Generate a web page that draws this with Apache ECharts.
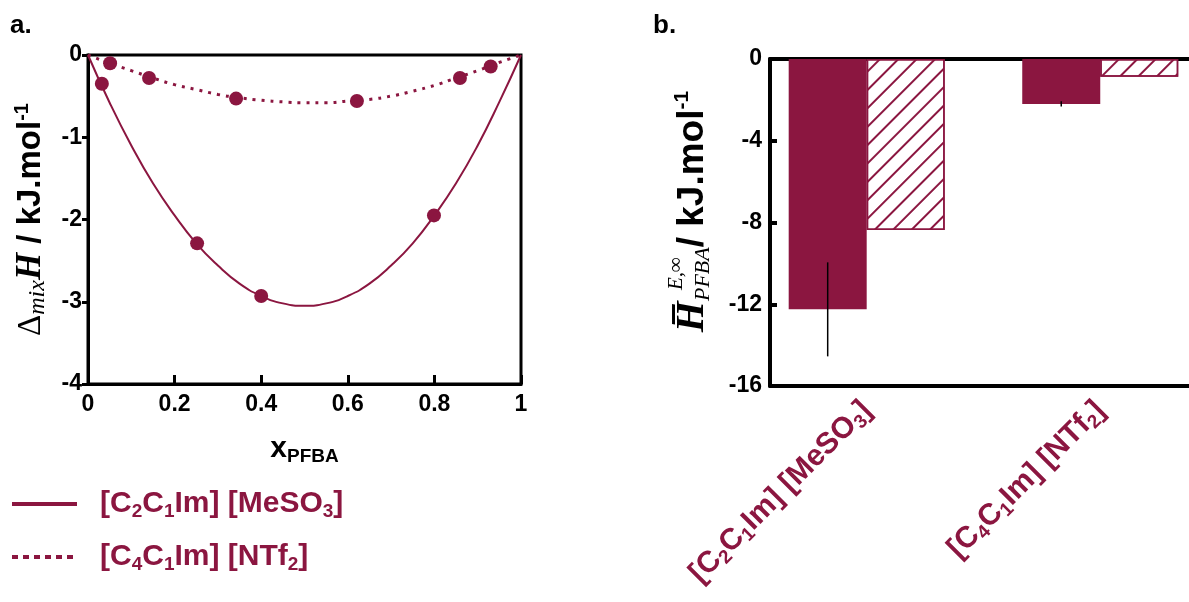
<!DOCTYPE html>
<html><head><meta charset="utf-8">
<script src="https://cdn.jsdelivr.net/npm/echarts@6/dist/echarts.min.js"></script>
<style>html,body{margin:0;padding:0;background:#fff}#c{width:1189px;height:602px}</style>
</head><body><div id="c"></div>
<script>
// ---- panel a: fitted curves ----
const xFit = [0, 0.05, 0.1, 0.15, 0.2, 0.25, 0.3, 0.35, 0.4, 0.45, 0.5, 0.55, 0.6, 0.65, 0.7, 0.75, 0.8, 0.85, 0.9, 0.95, 1];
const fitC2 = [0, -0.58, -1.10, -1.56, -1.95, -2.29, -2.56, -2.78, -2.93, -3.02, -3.05, -3.02, -2.93, -2.78, -2.56, -2.29, -1.95, -1.56, -1.10, -0.57, 0];
const fitC4 = [0, -0.10, -0.19, -0.28, -0.36, -0.42, -0.48, -0.52, -0.55, -0.57, -0.58, -0.58, -0.56, -0.54, -0.50, -0.44, -0.37, -0.28, -0.19, -0.09, 0];
// ---- panel a: measured points ----
const xPtsC2 = [0.032, 0.252, 0.40, 0.799];
const yPtsC2 = [-0.35, -2.29, -2.93, -1.95];
const xPtsC4 = [0.051, 0.141, 0.342, 0.621, 0.859, 0.930];
const yPtsC4 = [-0.10, -0.28, -0.53, -0.56, -0.28, -0.14];
const seriesNames = ['[C2C1Im] [MeSO3]', '[C4C1Im] [NTf2]'];
const xTicksA = [0, 0.2, 0.4, 0.6, 0.8, 1];
const yTicksA = [0, -1, -2, -3, -4];
// ---- panel b ----
const barCategories = ['[C2C1Im] [MeSO3]', '[C4C1Im] [NTf2]'];
const barPositions = [1, 2];
const solidVals = [-12.25, -2.2];
const solidErr = [2.3, 0.13];
const hatchVals = [-8.37, -0.87];
const yTicksB = [0, -4, -8, -12, -16];

const MAROON = '#8B1640';
const SANS = '"Liberation Sans", Arial, sans-serif';
const SERIF = '"Liberation Serif", "DejaVu Serif", serif';
const BAR_W = 78;

function subFmt(s) { return s.replace(/(\d)/g, '{s|$1}'); }
function zip(a, b) { return a.map((v, i) => [v, b[i]]); }

const chart = echarts.init(document.getElementById('c'));

const subRich = {
  s: {fontSize: 19, lineHeight: 19, verticalAlign: 'bottom', fontWeight: 'bold', color: MAROON, fontFamily: SANS},
  p: {width: 18}
};

const option = {
  animation: false,
  backgroundColor: '#fff',
  graphic: [
    {type: 'text', left: 10, top: 13, style: {text: 'a.', font: 'bold 26px ' + SANS, fill: '#000'}},
    {type: 'text', left: 653, top: 13, style: {text: 'b.', font: 'bold 26px ' + SANS, fill: '#000'}},
    {type: 'text', x: 666, y: 290, rotation: Math.PI / 2,
      style: {text: 'E,∞', font: 'italic 21px ' + SERIF, fill: '#000'}}
  ],
  grid: [
    {left: 88, top: 55, width: 433, height: 329, show: true, borderColor: '#000', borderWidth: 3},
    {left: 770, top: 59, right: 0, bottom: 216}
  ],
  legend: {
    orient: 'vertical', left: 10, top: 487, padding: 0, itemWidth: 65, itemHeight: 2, itemGap: 19,
    data: [
      {name: seriesNames[0]},
      {name: seriesNames[1], lineStyle: {type: [6, 5], width: 4}}
    ],
    itemStyle: {opacity: 0},
    lineStyle: {width: 4},
    formatter: n => '{p| }' + subFmt(n),
    textStyle: {color: MAROON, fontSize: 30, fontWeight: 'bold', fontFamily: SANS, lineHeight: 34, rich: subRich}
  },
  xAxis: [
    {type: 'value', gridIndex: 0, min: 0, max: 1, interval: 0.2,
      name: '{x|x}{s|PFBA}', nameLocation: 'middle', nameGap: 48,
      nameTextStyle: {rich: {x: {fontSize: 30, fontWeight: 'bold', fontFamily: SANS, color: '#000', lineHeight: 34},
        s: {fontSize: 19, fontWeight: 'bold', fontFamily: SANS, color: '#000', lineHeight: 19, verticalAlign: 'bottom'}}},
      axisLine: {show: true, onZero: false, lineStyle: {color: '#000', width: 3}},
      axisTick: {show: true, inside: true, length: 9, lineStyle: {color: '#000', width: 3}},
      axisLabel: {color: '#000', fontSize: 23, fontWeight: 'bold', fontFamily: SANS, margin: 9},
      splitLine: {show: false}},
    {type: 'value', gridIndex: 1, min: 0.586, max: 2.38,
      axisLine: {show: true, onZero: false, lineStyle: {color: '#000', width: 4}},
      axisTick: {show: false},
      axisLabel: {customValues: barPositions, rotate: 45, margin: 20, color: MAROON, fontSize: 30, fontWeight: 'bold', fontFamily: SANS,
        lineHeight: 34, rich: subRich,
        formatter: v => { const i = barPositions.indexOf(v); return i >= 0 ? subFmt(barCategories[i]) : ''; }},
      splitLine: {show: false}},
    {type: 'value', gridIndex: 1, min: 0.586, max: 2.38, position: 'top',
      axisLine: {show: true, onZero: false, lineStyle: {color: '#000', width: 4}},
      axisTick: {show: false}, axisLabel: {show: false}, splitLine: {show: false}}
  ],
  yAxis: [
    {type: 'value', gridIndex: 0, min: -4, max: 0, interval: 1,
      name: '{d|Δ}{m|mix}{h|H}{u| / kJ.mol}{sup|-1}', nameLocation: 'middle', nameRotate: 90, nameGap: 38,
      nameTextStyle: {rich: {
        d: {fontFamily: SERIF, fontSize: 33, color: '#000', lineHeight: 38},
        m: {fontFamily: SERIF, fontStyle: 'italic', fontSize: 24, color: '#000', lineHeight: 24, verticalAlign: 'bottom'},
        h: {fontFamily: SERIF, fontStyle: 'italic', fontWeight: 'bold', fontSize: 35, color: '#000', lineHeight: 38},
        u: {fontFamily: SANS, fontWeight: 'bold', fontSize: 33, color: '#000', lineHeight: 38},
        sup: {fontFamily: SANS, fontWeight: 'bold', fontSize: 20, color: '#000', lineHeight: 20, verticalAlign: 'top'}}},
      axisLine: {show: true, onZero: false, lineStyle: {color: '#000', width: 3}},
      axisTick: {show: true, length: 6, lineStyle: {color: '#000', width: 3}},
      axisLabel: {color: '#000', fontSize: 23, fontWeight: 'bold', fontFamily: SANS, margin: 6},
      splitLine: {show: false}},
    {type: 'value', gridIndex: 1, min: -16, max: 0, interval: 4,
      name: '{h|H̅}{sb|PFBA}{u|/ kJ.mol}{sup|-1}', nameLocation: 'middle', nameRotate: 90, nameGap: 56,
      nameTextStyle: {rich: {
        h: {fontFamily: SERIF, fontStyle: 'italic', fontWeight: 'bold', fontSize: 40, color: '#000', lineHeight: 42, padding: [0, 0, 0, 22]},
        sb: {fontFamily: SERIF, fontStyle: 'italic', fontSize: 22, color: '#000', lineHeight: 22, verticalAlign: 'bottom'},
        u: {fontFamily: SANS, fontWeight: 'bold', fontSize: 37, color: '#000', lineHeight: 42},
        sup: {fontFamily: SANS, fontWeight: 'bold', fontSize: 21, color: '#000', lineHeight: 21, verticalAlign: 'top'}}},
      axisLine: {show: true, onZero: false, lineStyle: {color: '#000', width: 4}},
      axisTick: {show: true, inside: true, length: 7, lineStyle: {color: '#000', width: 4}},
      axisLabel: {color: '#000', fontSize: 23, fontWeight: 'bold', fontFamily: SANS, margin: 8},
      splitLine: {show: false}}
  ],
  series: [
    {name: seriesNames[0], type: 'line', xAxisIndex: 0, yAxisIndex: 0, data: zip(xFit, fitC2), smooth: true,
      symbol: 'none', lineStyle: {color: MAROON, width: 2}, itemStyle: {color: MAROON}},
    {name: seriesNames[1], type: 'line', xAxisIndex: 0, yAxisIndex: 0, data: zip(xFit, fitC4), smooth: true,
      symbol: 'none', lineStyle: {color: MAROON, width: 3, type: [3, 6]}, itemStyle: {color: MAROON}},
    {name: 'pts C2', type: 'scatter', xAxisIndex: 0, yAxisIndex: 0, data: zip(xPtsC2, yPtsC2),
      symbolSize: 14, itemStyle: {color: MAROON, opacity: 1}},
    {name: 'pts C4', type: 'scatter', xAxisIndex: 0, yAxisIndex: 0, data: zip(xPtsC4, yPtsC4),
      symbolSize: 14, itemStyle: {color: MAROON, opacity: 1}},
    {name: 'solid', type: 'bar', xAxisIndex: 1, yAxisIndex: 1, data: zip(barPositions, solidVals),
      barWidth: BAR_W, barGap: '0%', itemStyle: {color: MAROON}},
    {name: 'hatched', type: 'bar', xAxisIndex: 1, yAxisIndex: 1, data: zip(barPositions, hatchVals),
      barWidth: BAR_W, barGap: '0%',
      itemStyle: {color: '#fff', borderColor: MAROON, borderWidth: 1.5,
        decal: {symbol: 'rect', symbolSize: 1, dashArrayX: [1, 0], dashArrayY: [1.6, 10.4], rotation: -Math.PI / 4, color: MAROON}}},
    {name: 'err', type: 'custom', xAxisIndex: 1, yAxisIndex: 1, z: 5,
      data: barPositions.map((p, i) => [p, solidVals[i], solidErr[i]]),
      renderItem: (params, api) => {
        const x = api.value(0), y = api.value(1), e = api.value(2);
        const a = api.coord([x, y + e]), b = api.coord([x, y - e]);
        const dx = -BAR_W / 2;
        return {type: 'line', shape: {x1: a[0] + dx, y1: a[1], x2: b[0] + dx, y2: b[1]},
          style: {stroke: '#000', lineWidth: 1.5}};
      }}
  ]
};
chart.setOption(option);
</script></body></html>
